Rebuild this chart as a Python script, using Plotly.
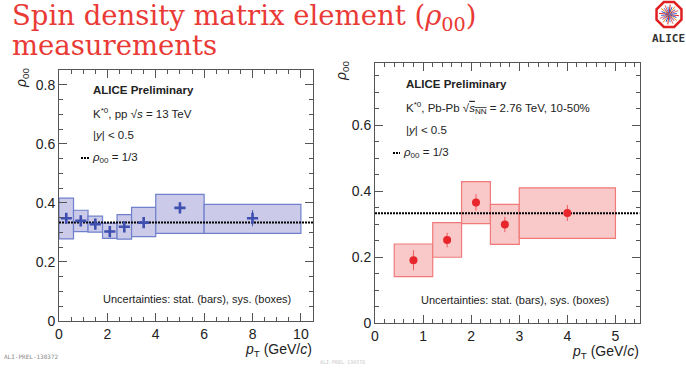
import math
import plotly.graph_objects as go

W, H = 686, 371

# ---------------- data ----------------
# pp 13 TeV (left)
pp_pt = [0.3, 0.9, 1.5, 2.1, 2.7, 3.5, 5.0, 8.0]
pp_rho = [0.348, 0.339, 0.328, 0.303, 0.319, 0.333, 0.383, 0.348]
pp_stat = [0.012, 0.010, 0.010, 0.010, 0.012, 0.012, 0.015, 0.027]
pp_bin_lo = [0.0, 0.6, 1.2, 1.8, 2.4, 3.0, 4.0, 6.0]
pp_bin_hi = [0.6, 1.2, 1.8, 2.4, 3.0, 4.0, 6.0, 10.0]
pp_sys_lo = [0.278, 0.303, 0.301, 0.280, 0.277, 0.286, 0.297, 0.297]
pp_sys_hi = [0.416, 0.375, 0.355, 0.331, 0.360, 0.385, 0.429, 0.395]

# Pb-Pb 2.76 TeV 10-50% (right)
pb_pt = [0.8, 1.5, 2.1, 2.7, 4.0]
pb_rho = [0.191, 0.252, 0.366, 0.299, 0.334]
pb_stat = [0.030, 0.022, 0.025, 0.023, 0.024]
pb_bin_lo = [0.4, 1.2, 1.8, 2.4, 3.0]
pb_bin_hi = [1.2, 1.8, 2.4, 3.0, 5.0]
pb_sys_lo = [0.141, 0.200, 0.302, 0.239, 0.257]
pb_sys_hi = [0.240, 0.305, 0.429, 0.360, 0.410]

rho_unpolarized = 1 / 3

left_xticks = [0, 2, 4, 6, 8, 10]
left_yticks = [0, 0.2, 0.4, 0.6, 0.8]
right_xticks = [0, 1, 2, 3, 4, 5]
right_yticks = [0, 0.2, 0.4, 0.6]

# ---------------- helpers ----------------
def px(x):
    return x / W

def py(y):
    return 1 - y / H

BLUE = "#3f4fb0"
BLUE_FILL = "#cbcbe9"
BLUE_LINE = "#7080cc"
RED = "#e8252b"
RED_FILL = "#f9c8c8"
RED_LINE = "#f07a7a"
FRAME = "#555555"
SANS = "Liberation Sans, Arial, sans-serif"

fig = go.Figure()

# dotted reference lines
fig.add_trace(go.Scatter(x=[0, 10.5], y=[rho_unpolarized] * 2, mode="lines",
                         line=dict(color="black", width=2, dash="2px,1px"),
                         xaxis="x", yaxis="y", showlegend=False, hoverinfo="skip"))
fig.add_trace(go.Scatter(x=[0, 5.5], y=[rho_unpolarized] * 2, mode="lines",
                         line=dict(color="black", width=2, dash="2px,1px"),
                         xaxis="x2", yaxis="y2", showlegend=False, hoverinfo="skip"))

# data points
fig.add_trace(go.Scatter(x=pp_pt, y=pp_rho, mode="markers",
                         marker=dict(symbol="cross-thin", size=8, color=BLUE,
                                     line=dict(color=BLUE, width=2.6)),
                         error_y=dict(type="data", array=pp_stat, color=BLUE,
                                      thickness=1, width=0),
                         xaxis="x", yaxis="y", showlegend=False))
fig.add_trace(go.Scatter(x=pb_pt, y=pb_rho, mode="markers",
                         marker=dict(symbol="circle", size=8, color=RED),
                         error_y=dict(type="data", array=pb_stat, color="#ee5a5e",
                                      thickness=1, width=0),
                         xaxis="x2", yaxis="y2", showlegend=False))

shapes = []
for lo, hi, ylo, yhi in zip(pp_bin_lo, pp_bin_hi, pp_sys_lo, pp_sys_hi):
    shapes.append(dict(type="rect", xref="x", yref="y", x0=lo, x1=hi, y0=ylo, y1=yhi,
                       fillcolor=BLUE_FILL, line=dict(color=BLUE_LINE, width=1.2),
                       layer="below"))
for lo, hi, ylo, yhi in zip(pb_bin_lo, pb_bin_hi, pb_sys_lo, pb_sys_hi):
    shapes.append(dict(type="rect", xref="x2", yref="y2", x0=lo, x1=hi, y0=ylo, y1=yhi,
                       fillcolor=RED_FILL, line=dict(color=RED_LINE, width=1.2),
                       layer="below"))

# legend dotted samples
for x0, x1, yy in [(81, 89, 158), (393, 400, 153)]:
    shapes.append(dict(type="line", xref="paper", yref="paper", x0=px(x0), x1=px(x1),
                       y0=py(yy), y1=py(yy), line=dict(color="black", width=2, dash="2px,1px")))

# ALICE logo (decoration)
cx, cy, r = 669, 14.5, 13.5
oct_pts = [(cx + r * math.cos(math.radians(22.5 + 45 * k)),
            cy + r * math.sin(math.radians(22.5 + 45 * k))) for k in range(8)]
path = "M " + " L ".join(f"{px(a):.5f},{py(b):.5f}" for a, b in oct_pts) + " Z"
shapes.append(dict(type="path", xref="paper", yref="paper", path=path,
                   line=dict(color="#e02020", width=2.5), fillcolor="white"))
ray_colors = ["#e02020", "#3050c0", "#f09020", "#8040a0", "#e06060", "#4080e0"]
for k in range(24):
    ang = math.radians(k * 15 + 7)
    rr = 10 if k % 2 == 0 else 8
    shapes.append(dict(type="line", xref="paper", yref="paper",
                       x0=px(cx), y0=py(cy),
                       x1=px(cx + rr * math.cos(ang)), y1=py(cy + rr * math.sin(ang)),
                       line=dict(color=ray_colors[k % len(ray_colors)], width=1)))

ann = []
def text(x, y, s, size=12, color="#222222", xanchor="left", yanchor="middle",
         family=SANS, angle=0):
    ann.append(dict(x=px(x), y=py(y), xref="paper", yref="paper", text=s,
                    showarrow=False, xanchor=xanchor, yanchor=yanchor, textangle=angle,
                    font=dict(size=size, color=color, family=family)))

# title
TITLE_FONT = "DejaVu Serif, serif"
text(10, 17, "Spin density matrix element (<i>ρ</i><sub>00</sub>)", size=27.5,
     color="#ea3a36", family=TITLE_FONT)
text(10, 45, "measurements", size=27.5, color="#ea3a36", family=TITLE_FONT)
text(650, 38, "<b>ALICE</b>", size=11, color="#333333", family="DejaVu Sans Mono, monospace")

# left panel texts
text(91, 90.5, "<b>ALICE Preliminary</b>", size=11.5)
text(91, 113, "K<sup>*0</sup>, pp √<i>s</i> = 13 TeV", size=11.5)
text(91, 135, "|<i>y</i>| &lt; 0.5", size=11.5)
text(90, 158, "<i>ρ</i><sub>00</sub> = 1/3", size=11.5)
text(101, 299, "Uncertainties: stat. (bars), sys. (boxes)", size=11)
text(314, 350, "<i>p</i><sub>T</sub> (GeV/<i>c</i>)", size=14, xanchor="right")
text(22, 78, "<i>ρ</i><sub>00</sub>", size=14, angle=-90, xanchor="center")
text(2, 356, "ALI-PREL-130372", size=6, color="#888888", family="DejaVu Sans Mono, monospace")

# right panel texts
text(404, 84, "<b>ALICE Preliminary</b>", size=11.5)
text(404, 108, "K<sup>*0</sup>, Pb-Pb √<span style='text-decoration:overline'><i>s</i><sub>NN</sub></span> = 2.76 TeV, 10-50%", size=11.5)
text(404, 130, "|<i>y</i>| &lt; 0.5", size=11.5)
text(401, 153, "<i>ρ</i><sub>00</sub> = 1/3", size=11.5)
text(419, 300, "Uncertainties: stat. (bars), sys. (boxes)", size=11)
text(641, 352, "<i>p</i><sub>T</sub> (GeV/<i>c</i>)", size=14, xanchor="right")
text(342, 71, "<i>ρ</i><sub>00</sub>", size=14, angle=-90, xanchor="center")
text(318, 362, "ALI-PREL-130376", size=5, color="#c8c8c8", family="DejaVu Sans Mono, monospace")

axis_common = dict(showline=True, linecolor=FRAME, linewidth=1, mirror="allticks",
                   ticks="inside", tickcolor=FRAME, ticklen=8, tickwidth=1,
                   showgrid=False, zeroline=False, automargin=False,
                   tickfont=dict(family=SANS, size=14, color="#222222"))

fig.update_layout(
    width=W, height=H,
    margin=dict(l=0, r=0, t=0, b=0, pad=0),
    paper_bgcolor="white", plot_bgcolor="white",
    showlegend=False,
    shapes=shapes, annotations=ann,
    xaxis=dict(domain=[px(59), px(313)], range=[0, 10.5], tickvals=left_xticks,
               minor=dict(dtick=0.5, ticks="inside", ticklen=4, tickcolor=FRAME),
               anchor="y", **axis_common),
    yaxis=dict(domain=[py(321), py(70)], range=[0, 0.85], tickvals=left_yticks,
               ticktext=["0", "0.2", "0.4", "0.6", "0.8"],
               minor=dict(dtick=0.05, ticks="inside", ticklen=4, tickcolor=FRAME),
               anchor="x", **axis_common),
    xaxis2=dict(domain=[px(375), px(639.5)], range=[0, 5.5], tickvals=right_xticks,
                minor=dict(dtick=0.2, ticks="inside", ticklen=4, tickcolor=FRAME),
                anchor="y2", **axis_common),
    yaxis2=dict(domain=[py(323.3), py(63.3)], range=[0, 0.787], tickvals=right_yticks,
                ticktext=["0", "0.2", "0.4", "0.6"],
                minor=dict(dtick=0.05, ticks="inside", ticklen=4, tickcolor=FRAME),
                anchor="x2", **axis_common),
)

fig.write_html("out.html", config={"displayModeBar": False},
               post_script="document.body.style.margin='0';document.body.style.padding='0';")
